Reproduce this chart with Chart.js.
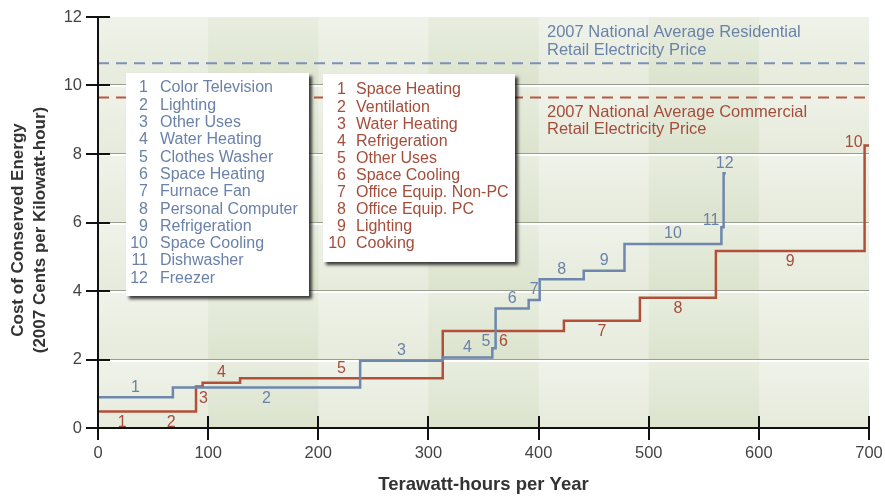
<!DOCTYPE html>
<html>
<head>
<meta charset="utf-8">
<script src="https://cdn.jsdelivr.net/npm/chart.js@4/dist/chart.umd.min.js"></script>
<style>
  html, body { margin: 0; padding: 0; background: #ffffff; }
  #wrap { width: 885px; height: 496px; position: relative; }
</style>
</head>
<body>
<div id="wrap"><canvas id="c" width="885" height="496"></canvas></div>
<script>
// Residential efficiency measures (blue curve)
const resNames = ['Color Television', 'Lighting', 'Other Uses', 'Water Heating', 'Clothes Washer',
  'Space Heating', 'Furnace Fan', 'Personal Computer', 'Refrigeration', 'Space Cooling',
  'Dishwasher', 'Freezer'];
const resSavings = [68, 170, 75, 45, 3, 30, 10, 40, 37, 88, 2, 2];          // TWh per year
const resCost = [0.90, 1.18, 1.96, 2.06, 2.33, 3.49, 3.74, 4.34, 4.59, 5.37, 5.86, 7.44]; // cents/kWh

// Commercial efficiency measures (red curve)
const comNames = ['Space Heating', 'Ventilation', 'Water Heating', 'Refrigeration', 'Other Uses',
  'Space Cooling', 'Office Equip. Non-PC', 'Office Equip. PC', 'Lighting', 'Cooking'];
const comSavings = [44, 45, 6, 34, 184, 110, 69, 69, 135, 4];
const comCost = [0.48, 0.48, 1.21, 1.32, 1.45, 2.83, 3.13, 3.80, 5.17, 8.25];

// 2007 national average retail electricity prices (cents/kWh)
const resPrice = 10.65;
const comPrice = 9.65;
const resPriceText = ['2007 National Average Residential', 'Retail Electricity Price'];
const comPriceText = ['2007 National Average Commercial', 'Retail Electricity Price'];

const xTicks = [0, 100, 200, 300, 400, 500, 600, 700];
const yTicks = [0, 2, 4, 6, 8, 10, 12];
const xTitle = 'Terawatt-hours per Year';
const yTitle = ['Cost of Conserved Energy', '(2007 Cents per Kilowatt-hour)'];

// where each step's number sits relative to its step
const resLabelPos = ['above', 'below', 'above', 'above', 'left', 'above', 'above', 'above', 'above', 'above', 'left', 'above'];
const comLabelPos = ['below', 'below', 'right', 'above', 'above', 'below', 'below', 'below', 'below', 'topleft'];

const BLUE = '#6d87ad';
const BLUE_TXT = '#6a82a9';
const RED = '#b24f38';
const RED_TXT = '#a54d3b';
const FONT = '"Liberation Sans", Arial, Helvetica, sans-serif';

// cumulative step curve: one point at the start of each measure, plus the end point
function stepPoints(savings, cost) {
  const pts = [];
  let x = 0;
  savings.forEach((w, i) => { pts.push({ x: x, y: cost[i] }); x += w; });
  pts.push({ x: x, y: cost[cost.length - 1] });
  return pts;
}
const resPts = stepPoints(resSavings, resCost);
const comPts = stepPoints(comSavings, comCost);

const backdrop = {
  id: 'backdrop',
  beforeDatasetsDraw(chart) {
    const { ctx, chartArea: a, scales: { x, y } } = chart;
    ctx.save();
    ctx.fillStyle = '#e6ebdc';
    ctx.fillRect(a.left, a.top, a.right - a.left, a.bottom - a.top);
    // alternating vertical bands every 100 TWh
    for (let i = 0; i < xTicks.length - 1; i++) {
      if (i % 2 === 1) {
        const l = x.getPixelForValue(xTicks[i]);
        const r = x.getPixelForValue(xTicks[i + 1]);
        ctx.fillStyle = '#dbe3cd';
        ctx.fillRect(l, a.top, r - l, a.bottom - a.top);
      }
    }
    // soft highlight at the top of each horizontal band
    for (let i = 0; i < yTicks.length - 1; i++) {
      const b = y.getPixelForValue(yTicks[i]);
      const t = y.getPixelForValue(yTicks[i + 1]);
      const g = ctx.createLinearGradient(0, t, 0, b);
      g.addColorStop(0, 'rgba(255,255,255,0.38)');
      g.addColorStop(1, 'rgba(255,255,255,0)');
      ctx.fillStyle = g;
      ctx.fillRect(a.left, t, a.right - a.left, b - t);
    }
    // grid lines with a white line beneath
    yTicks.forEach(v => {
      if (v === 0 || v === 12) return;
      const py = Math.round(y.getPixelForValue(v));
      ctx.fillStyle = '#9aa091';
      ctx.fillRect(a.left, py - 1, a.right - a.left, 1);
      ctx.fillStyle = 'rgba(255,255,255,0.95)';
      ctx.fillRect(a.left, py, a.right - a.left, 2);
    });
    ctx.restore();
  },
  afterDatasetsDraw(chart) {
    const { ctx, chartArea: a, scales: { x, y } } = chart;
    ctx.save();
    // step numbers
    ctx.font = '16px ' + FONT;
    const drawNums = (pts, pos, color) => {
      ctx.fillStyle = color;
      for (let i = 0; i < pts.length - 1; i++) {
        const xs = x.getPixelForValue(pts[i].x);
        const xe = x.getPixelForValue(pts[i + 1].x);
        const py = y.getPixelForValue(pts[i].y);
        const mid = (xs + xe) / 2;
        const txt = String(i + 1);
        ctx.textBaseline = 'middle';
        switch (pos[i]) {
          case 'above': ctx.textAlign = 'center'; ctx.fillText(txt, mid, py - 10); break;
          case 'below': ctx.textAlign = 'center'; ctx.fillText(txt, mid, py + 11); break;
          case 'left': ctx.textAlign = 'right'; ctx.fillText(txt, xs - 2, py - 7); break;
          case 'topleft': ctx.textAlign = 'right'; ctx.fillText(txt, xs - 2, py - 3); break;
          case 'right': ctx.textAlign = 'left'; ctx.fillText(txt, xs + 3, py + 12); break;
        }
      }
    };
    drawNums(resPts, resLabelPos, BLUE_TXT);
    drawNums(comPts, comLabelPos, RED_TXT);

    // price line captions
    ctx.textAlign = 'left';
    ctx.textBaseline = 'middle';
    ctx.font = '16.5px ' + FONT;
    const tx = 547;
    const ry = y.getPixelForValue(resPrice);
    ctx.fillStyle = BLUE_TXT;
    ctx.fillText(resPriceText[0], tx, ry - 31);
    ctx.fillText(resPriceText[1], tx, ry - 13);
    const cy = y.getPixelForValue(comPrice);
    ctx.fillStyle = RED_TXT;
    ctx.fillText(comPriceText[0], tx, cy + 15);
    ctx.fillText(comPriceText[1], tx, cy + 32);

    // legend boxes
    const box = (bx, by, bw, bh) => {
      ctx.save();
      ctx.shadowColor = 'rgba(0,0,0,0.75)';
      ctx.shadowOffsetX = 3;
      ctx.shadowOffsetY = 3;
      ctx.shadowBlur = 3;
      ctx.fillStyle = '#ffffff';
      ctx.fillRect(bx, by, bw, bh);
      ctx.restore();
    };
    const list = (names, color, numX, nameX, y0, lh) => {
      ctx.fillStyle = color;
      ctx.font = '16px ' + FONT;
      ctx.textBaseline = 'middle';
      names.forEach((n, i) => {
        ctx.textAlign = 'right';
        ctx.fillText(String(i + 1), numX, y0 + i * lh);
        ctx.textAlign = 'left';
        ctx.fillText(n, nameX, y0 + i * lh);
      });
    };
    box(126, 73, 183, 223);
    list(resNames, BLUE_TXT, 148, 160, 88, 17.3);
    box(323, 74, 192, 188);
    list(comNames, RED_TXT, 346, 356, 90, 17.1);

    // axes with ticks crossing them
    ctx.fillStyle = '#111111';
    ctx.fillRect(a.left - 1, a.top, 2, a.bottom - a.top + 1);
    ctx.fillRect(a.left - 1, a.bottom - 1, a.right - a.left + 2, 2);
    yTicks.forEach(v => {
      const py = Math.round(y.getPixelForValue(v));
      ctx.fillRect(a.left - 12, py - 1, 24, 2);
    });
    xTicks.forEach(v => {
      const px = Math.round(x.getPixelForValue(v));
      ctx.fillRect(px - 1, a.bottom - 12, 2, 24);
    });

    // axis titles
    ctx.fillStyle = '#333333';
    ctx.font = 'bold 18.5px ' + FONT;
    ctx.textAlign = 'center';
    ctx.textBaseline = 'middle';
    ctx.fillText(xTitle, (a.left + a.right) / 2, 485);
    ctx.save();
    ctx.translate(0, 230);
    ctx.rotate(-Math.PI / 2);
    ctx.font = 'bold 17px ' + FONT;
    ctx.fillText(yTitle[0], 0, 18);
    ctx.fillText(yTitle[1], 0, 40);
    ctx.restore();
    ctx.restore();
  }
};

new Chart(document.getElementById('c'), {
  type: 'line',
  data: {
    datasets: [
      { label: 'Residential price', data: [{ x: 0, y: resPrice }, { x: 700, y: resPrice }],
        borderColor: '#7b91b7', borderWidth: 2, borderDash: [11, 7], pointRadius: 0 },
      { label: 'Commercial price', data: [{ x: 0, y: comPrice }, { x: 700, y: comPrice }],
        borderColor: '#b65a43', borderWidth: 2, borderDash: [11, 7], pointRadius: 0 },
      { label: 'Residential', data: resPts, stepped: 'before',
        borderColor: BLUE, borderWidth: 2.5, pointRadius: 0 },
      { label: 'Commercial', data: comPts, stepped: 'before',
        borderColor: RED, borderWidth: 2.5, pointRadius: 0 }
    ]
  },
  options: {
    responsive: false,
    animation: false,
    layout: { padding: { left: 0, right: 16, top: 17, bottom: 0 } },
    plugins: { legend: { display: false }, tooltip: { enabled: false } },
    scales: {
      x: {
        type: 'linear', min: 0, max: 700,
        afterFit: s => { s.height = 68; s.paddingLeft = 0; s.paddingRight = 0; },
        afterBuildTicks: s => { s.ticks = xTicks.map(v => ({ value: v })); },
        grid: { display: false, drawTicks: false },
        border: { display: false },
        ticks: { padding: 16, color: '#444444', font: { size: 16.5, family: FONT } }
      },
      y: {
        type: 'linear', min: 0, max: 12,
        afterFit: s => { s.width = 98; s.paddingTop = 0; s.paddingBottom = 0; },
        afterBuildTicks: s => { s.ticks = yTicks.map(v => ({ value: v })); },
        grid: { display: false, drawTicks: false },
        border: { display: false },
        ticks: { padding: 16, color: '#444444', font: { size: 16.5, family: FONT } }
      }
    }
  },
  plugins: [backdrop]
});
</script>
</body>
</html>
